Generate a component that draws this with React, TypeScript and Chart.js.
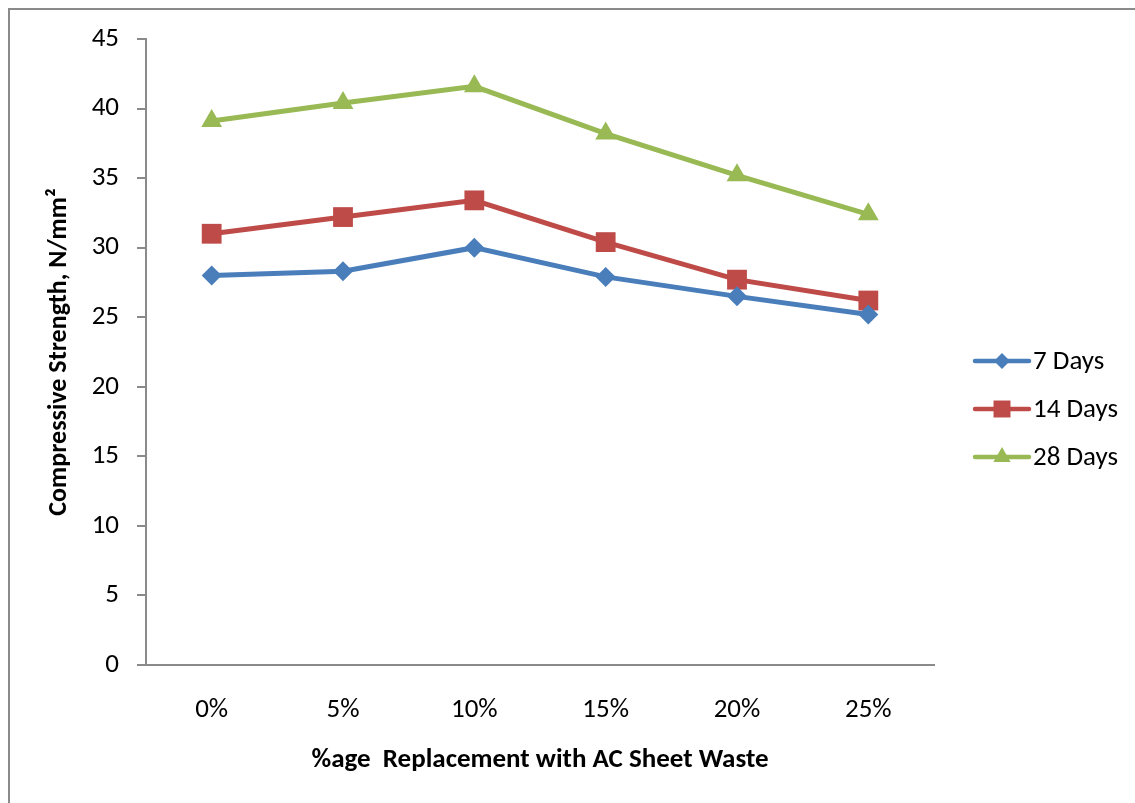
import React, { useEffect, useRef } from "react";
import { Chart, registerables } from "chart.js";

Chart.register(...registerables);

const categories = ["0%", "5%", "10%", "15%", "20%", "25%"];
const days7 = [28.0, 28.3, 30.0, 27.9, 26.5, 25.2];
const days14 = [31.0, 32.2, 33.4, 30.4, 27.7, 26.2];
const days28 = [39.1, 40.4, 41.6, 38.2, 35.2, 32.4];
const seriesNames = ["7 Days", "14 Days", "28 Days"];
const yTitle = "Compressive Strength, N/mm²";
const xTitle = "%age  Replacement with AC Sheet Waste";

const FONT = "Carlito, Calibri, Lato, sans-serif";
const colors = ["#4A7EBB", "#BE4B48", "#98B954"];
const styles = ["rectRot", "rect", "triangle"];
const radii = [10, 14, 12];

function drawMarker(ctx: CanvasRenderingContext2D, style: string, x: number, y: number, r: number) {
  ctx.beginPath();
  if (style === "rectRot") {
    ctx.moveTo(x, y - r);
    ctx.lineTo(x + r, y);
    ctx.lineTo(x, y + r);
    ctx.lineTo(x - r, y);
  } else if (style === "rect") {
    const s = r * Math.SQRT1_2;
    ctx.rect(x - s, y - s, 2 * s, 2 * s);
  } else {
    ctx.moveTo(x, y - r);
    ctx.lineTo(x + r * 0.866, y + r * 0.5);
    ctx.lineTo(x - r * 0.866, y + r * 0.5);
  }
  ctx.closePath();
  ctx.fill();
}

const framePlugin = {
  id: "frame",
  beforeDraw(chart: any) {
    const ctx = chart.ctx;
    ctx.save();
    ctx.fillStyle = "#ffffff";
    ctx.fillRect(0, 0, chart.width, chart.height);
    ctx.strokeStyle = "#8a8a8a";
    ctx.lineWidth = 2;
    ctx.beginPath();
    ctx.moveTo(9, chart.height + 5);
    ctx.lineTo(9, 9);
    ctx.lineTo(chart.width + 5, 9);
    ctx.stroke();
    ctx.restore();
  },
};

const legendPlugin = {
  id: "customLegend",
  afterDraw(chart: any) {
    const ctx = chart.ctx;
    ctx.save();
    const x0 = 975;
    const x1 = 1029;
    const ys = [361, 409, 457];
    const lr = [8, 12, 10];
    ctx.font = `27px ${FONT}`;
    ctx.textBaseline = "middle";
    ctx.textAlign = "left";
    seriesNames.forEach((name, i) => {
      ctx.strokeStyle = colors[i];
      ctx.fillStyle = colors[i];
      ctx.lineWidth = 4.5;
      ctx.lineCap = "round";
      ctx.beginPath();
      ctx.moveTo(x0, ys[i]);
      ctx.lineTo(x1, ys[i]);
      ctx.stroke();
      drawMarker(ctx, styles[i], (x0 + x1) / 2, ys[i], lr[i]);
      ctx.fillStyle = "#000000";
      ctx.fillText(name, 1033, ys[i] + 1);
    });
    ctx.restore();
  },
};

export default function App() {
  const ref = useRef<HTMLCanvasElement | null>(null);
  useEffect(() => {
    if (!ref.current) return;
    const data = [days7, days14, days28];
    const chart = new Chart(ref.current, {
      type: "line",
      data: {
        labels: categories,
        datasets: seriesNames.map((name, i) => ({
          label: name,
          data: data[i],
          borderColor: colors[i],
          backgroundColor: colors[i],
          borderWidth: 5,
          pointStyle: styles[i] as any,
          pointRadius: radii[i],
          pointHoverRadius: radii[i],
          pointBorderWidth: 0,
          pointBackgroundColor: colors[i],
          tension: 0,
          fill: false,
        })),
      },
      options: {
        animation: false,
        responsive: false,
        maintainAspectRatio: false,
        layout: { padding: { top: 39, right: 201, left: 44, bottom: 27 } },
        plugins: {
          legend: { display: false },
          tooltip: { enabled: false },
        },
        scales: {
          x: {
            type: "category",
            offset: true,
            grid: { display: false, drawTicks: false },
            border: { display: true, color: "#8a8a8a", width: 2 },
            ticks: {
              color: "#000",
              padding: 29,
              font: { family: FONT, size: 27 },
              maxRotation: 0,
            },
            title: {
              display: true,
              text: xTitle,
              color: "#000",
              padding: 0,
              font: { family: FONT, size: 27, weight: "bold" },
            },
            afterFit(scale: any) {
              scale.height = 111;
            },
          },
          y: {
            min: 0,
            max: 45,
            grid: {
              drawOnChartArea: false,
              drawTicks: true,
              tickLength: 9,
              color: "#8a8a8a",
              lineWidth: 2,
            },
            border: { display: true, color: "#8a8a8a", width: 2 },
            ticks: {
              stepSize: 5,
              color: "#000",
              padding: 18,
              font: { family: FONT, size: 27 },
            },
            title: {
              display: true,
              text: yTitle,
              color: "#000",
              padding: 0,
              font: { family: FONT, size: 26, weight: "bold" },
            },
            afterFit(scale: any) {
              scale.width = 102;
            },
          },
        },
      },
      plugins: [framePlugin, legendPlugin],
    });
    return () => chart.destroy();
  }, []);
  return (
    <div style={{ position: "absolute", left: 0, top: 0, width: 1135, height: 803, overflow: "hidden", background: "#fff" }}>
      <canvas ref={ref} width={1135} height={803} style={{ display: "block", width: 1135, height: 803 }} />
    </div>
  );
}
